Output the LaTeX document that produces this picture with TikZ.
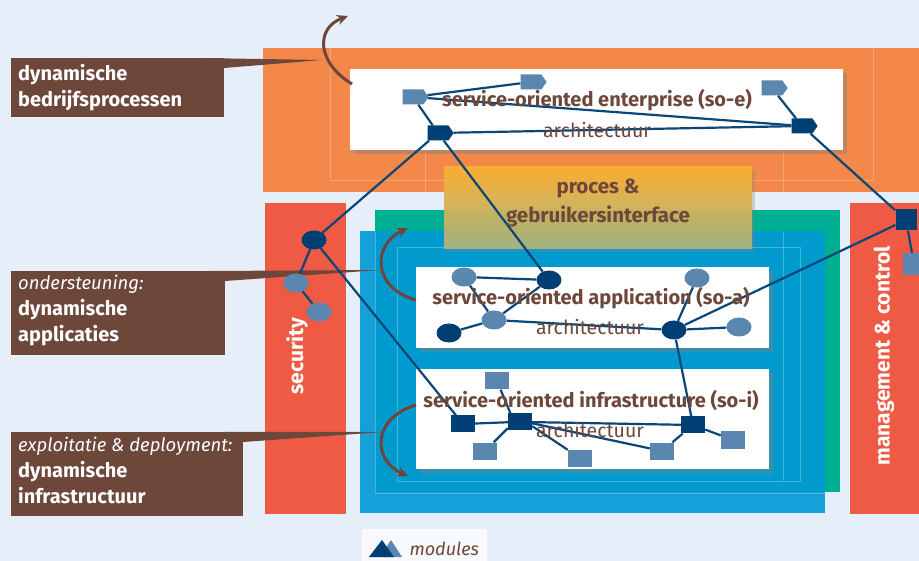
\documentclass[tikz,border=0pt]{standalone}
\usepackage{fontspec}
\setmainfont{Fira Sans}
\usetikzlibrary{shapes.symbols,shapes.geometric,shadows,arrows.meta}

\definecolor{paleblue}{HTML}{E6EEF9}
\definecolor{orangelayer}{HTML}{F4884A}
\definecolor{redbar}{HTML}{EF5A44}
\definecolor{greenlayer}{HTML}{00AE92}
\definecolor{bluelayer}{HTML}{0098D6}
\definecolor{procyellow}{HTML}{FBB131}
\definecolor{procgreen}{HTML}{A8B480}
\definecolor{darknode}{HTML}{003F73}
\definecolor{lightnode}{HTML}{5B86B0}
\definecolor{linkblue}{HTML}{0A4677}
\definecolor{callbrown}{HTML}{6D473A}

\begin{document}
\begin{tikzpicture}[x=1pt,y=-1pt]
      \tikzset { darkmod/.style = { shape=signal,signal to=east,signal pointer angle=110,fill=darknode,minimum width=26pt,minimum height=15pt,inner sep=0pt } }
      \tikzset { lightmod/.style = { darkmod,fill=lightnode } }
      \tikzset { darkapp/.style = { shape=ellipse,fill=darknode,minimum width=25pt,minimum height=19pt,inner sep=0pt } }
      \tikzset { lightapp/.style = { darkapp,fill=lightnode } }
      \tikzset { darkinf/.style = { shape=rectangle,fill=darknode,minimum width=24pt,minimum height=17pt,inner sep=0pt } }
      \tikzset { lightinf/.style = { darkinf,fill=lightnode } }
      \tikzset { link/.style = { draw=linkblue,line width=2.2pt } }
      \tikzset { flow/.style = { draw=callbrown,line width=3pt,-{Stealth[length=11pt,width=10pt]} } }
      \tikzset { layerbox/.style = { fill=white,drop shadow={shadow xshift=4pt,shadow yshift=-4pt,opacity=0.45} } }
      \tikzset { faint/.style = { draw=white,opacity=0.25,line width=0.6pt } }
      \tikzset { title/.style = { text=callbrown,font=\bfseries\fontsize{20}{24}\selectfont,inner sep=1pt } }
      \tikzset { subtitle/.style = { text=callbrown,font=\fontsize{19.5}{24}\selectfont,inner sep=1pt } }
      \tikzset { calltext/.style = { text=white,anchor=north west,align=left,inner sep=0pt,font=\fontsize{20}{26}\selectfont } }
      \tikzset { bartext/.style = { text=white,rotate=90,font=\bfseries\fontsize{21}{24}\selectfont } }

      \useasboundingbox (0,0) rectangle (919,561);
      \fill[paleblue] (0,0) rectangle (919,561);

      % layers
      \fill[orangelayer] (263,48) rectangle (919,192);
      \draw[faint] (330,48) -- (330,180) -- (873,180) -- (873,48);
      \draw[faint] (425,150) -- (425,192) (783,150) -- (783,192);
      \fill[redbar] (265,203) rectangle (346,514);
      \fill[redbar] (850,203) rectangle (919,514);
      \fill[greenlayer] (375,210) rectangle (840,492);
      \fill[bluelayer,opacity=0.9] (360,231) rectangle (825,513);
      \draw[faint] (375,231) -- (375,493) -- (825,493);
      \draw[faint] (397,247) rectangle (800,481);
      \draw[faint] (783,231) -- (783,481);
      \shade[top color=procyellow,bottom color=procgreen,opacity=0.95,drop shadow={shadow xshift=3pt,shadow yshift=-3pt,opacity=0.3}]
            (444,167) rectangle (752,249);
      \node[layerbox,minimum width=493pt,minimum height=81pt,anchor=north west] (soe) at (350,69) {};
      \node[layerbox,minimum width=353pt,minimum height=81pt,anchor=north west] (soa) at (416,267) {};
      \node[layerbox,minimum width=353pt,minimum height=100pt,anchor=north west] (soi) at (416,369) {};

      % callouts
      \fill[callbrown] (11,58) rectangle (224,117);
      \fill[callbrown] (200,58) -- (322,60) -- (224,68) -- cycle;
      \fill[callbrown] (11,271) rectangle (225,355);
      \fill[callbrown] (210,271) -- (380,270) -- (225,281) -- cycle;
      \fill[callbrown] (11,432) rectangle (243,516);
      \fill[callbrown] (225,432) -- (383,432) -- (243,442) -- cycle;
      \node[calltext] (cbp) at (18,64) {\bfseries dynamische\\\bfseries bedrijfsprocessen};
      \node[calltext] (cap) at (18,275) {\itshape\fontsize{18.5}{26}\selectfont ondersteuning:\\\bfseries dynamische\\\bfseries applicaties};
      \node[calltext] (cinf) at (18,437) {\itshape\fontsize{18.5}{26}\selectfont exploitatie \& deployment:\\\bfseries dynamische\\\bfseries infrastructuur};

      % curved arrows
      \coordinate (f1s) at (352,84);
      \coordinate (f1e) at (348,16);
      \coordinate (f2s) at (416,300);
      \coordinate (f2e) at (408,228);
      \coordinate (f3s) at (416,405);
      \coordinate (f3e) at (408,476);
      \draw[flow] (f1s) .. controls (316,62) and (316,28) .. (f1e);
      \draw[flow] (f2s) .. controls (372,288) and (372,245) .. (f2e);
      \draw[flow] (f3s) .. controls (372,418) and (372,460) .. (f3e);

      % modules
      \node[lightmod] (e1) at (413,97) {};
      \node[lightmod] (e2) at (531,82) {};
      \node[lightmod] (e3) at (772,88) {};
      \node[darkmod] (e4) at (438,133) {};
      \node[darkmod] (e5) at (802,126) {};

      \node[darkapp] (s1) at (314,240) {};
      \node[lightapp] (s2) at (296,283) {};
      \node[lightapp] (s3) at (319,312) {};

      \node[darkinf,minimum width=21pt,minimum height=21pt] (m1) at (906,220) {};
      \node[lightinf,minimum width=22pt,minimum height=22pt] (m2) at (914,264) {};

      \node[lightapp] (a1) at (464,277) {};
      \node[darkapp] (a2) at (549,280) {};
      \node[lightapp] (a3) at (494,320) {};
      \node[darkapp] (a4) at (449,333) {};
      \node[darkapp] (a5) at (674,330) {};
      \node[lightapp] (a6) at (697,278) {};
      \node[lightapp] (a7) at (739,327) {};

      \node[darkinf] (i1) at (463,424) {};
      \node[darkinf,minimum width=12pt] (i2) at (514,422) {};
      \node[darkinf,minimum width=12pt] (i2b) at (526,422) {};
      \node[lightinf] (i3) at (497,381) {};
      \node[lightinf] (i4) at (485,451) {};
      \node[lightinf] (i5) at (580,458) {};
      \node[lightinf] (i6) at (662,451) {};
      \node[darkinf] (i7) at (693,425) {};
      \node[lightinf] (i8) at (733,440) {};

      % links
      \draw[link] (e1) -- (e2);
      \draw[link] (e1) -- (e5);
      \draw[link] (e1) -- (e4);
      \draw[link] (e4) -- (e5);
      \draw[link] (e3) -- (e5);
      \draw[link] (e4) -- (s1);
      \draw[link] (e4) -- (a2);
      \draw[link] (e5) -- (m1);
      \draw[link] (s1) -- (s2);
      \draw[link] (s2) -- (s3);
      \draw[link] (s1) -- (i1);
      \draw[link] (m1) -- (m2);
      \draw[link] (m1) -- (a5);
      \draw[link] (a1) -- (a2);
      \draw[link] (a1) -- (a3);
      \draw[link] (a2) -- (a3);
      \draw[link] (a3) -- (a4);
      \draw[link] (a3) -- (a5);
      \draw[link] (a5) -- (a6);
      \draw[link] (a5) -- (a7);
      \draw[link] (a5) -- (i7);
      \draw[link] (i1) -- (i2);
      \draw[link] (i3) -- (i2);
      \draw[link] (i2) -- (i4);
      \draw[link] (i2b) -- (i5);
      \draw[link] (i2b) -- (i7);
      \draw[link] (i2b) -- (i6);
      \draw[link] (i6) -- (i7);
      \draw[link] (i7) -- (i8);

      % texts
      \node[title] (tsoe) at (597,100) {service-oriented enterprise (so-e)};
      \node[subtitle] (asoe) at (597,130) {architectuur};
      \node[title,align=center,font=\bfseries\fontsize{20.5}{29}\selectfont] (tproc) at (598,203) {proces \&\\gebruikersinterface};
      \node[title] (tsoa) at (591,298) {service-oriented application (so-a)};
      \node[subtitle] (asoa) at (590,327) {architectuur};
      \node[title] (tsoi) at (591,401) {service-oriented infrastructure (so-i)};
      \node[subtitle] (asoi) at (590,430) {architectuur};
      \node[bartext] (tsec) at (297,356) {security};
      \node[bartext] (tman) at (884,356) {management \& control};

      % legend
      \fill[white,opacity=0.7] (362,529) rectangle (487,561);
      \fill[lightnode] (380,557) -- (391,540) -- (402,557) -- cycle;
      \fill[darknode] (369,557) -- (382,540) -- (394,557) -- cycle;
      \node[text=callbrown,font=\itshape\fontsize{18}{20}\selectfont,anchor=west] (tmod) at (406,549) {modules};
\end{tikzpicture}
\end{document}
